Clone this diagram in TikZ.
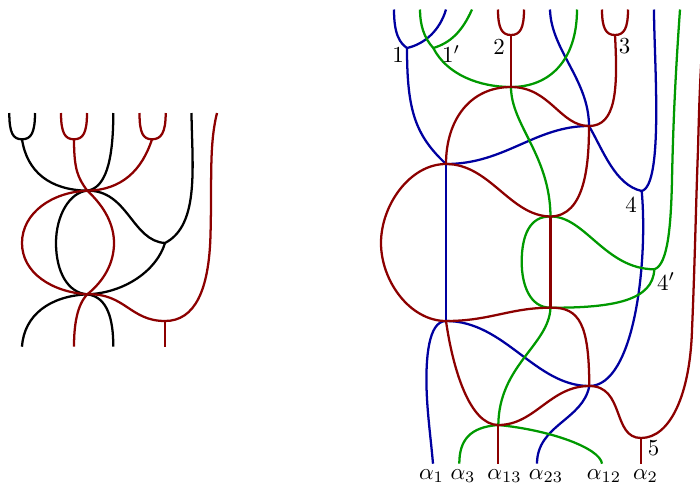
\documentclass[tikz,border=0pt]{standalone}
\definecolor{wr}{RGB}{140,0,0}
\definecolor{wb}{RGB}{0,0,160}
\definecolor{wg}{RGB}{0,153,0}
\tikzset{
  wire/.style={line width=1.7pt,line cap=butt,line join=round},
  kw/.style={wire,draw=black},
  rw/.style={wire,draw=wr},
  bw/.style={wire,draw=wb},
  gw/.style={wire,draw=wg},
  lab/.style={inner sep=0pt,scale=1.72,text=black}
}
\begin{document}
\begin{tikzpicture}[x=0.75pt,y=-0.75pt]
\useasboundingbox (0,0) rectangle (700,486);
% ---------- left diagram ----------
\coordinate (A) at (87.3,190.7);
\coordinate (B) at (87.3,294.3);
\coordinate (L1) at (22,139.3);
\coordinate (L2) at (74,139.3);
\coordinate (L3) at (152,139.3);
\coordinate (LR) at (165,243);
\coordinate (LS) at (165,321);
\coordinate (LT1) at (9.3,113);
\coordinate (LT2) at (35,113);
\coordinate (LT3) at (61,113);
\coordinate (LT4) at (87,113);
\coordinate (LT5) at (113.3,113);
\coordinate (LT6) at (139.5,113);
\coordinate (LT7) at (165.7,113);
\coordinate (LT8) at (191.5,113);
\coordinate (LT9) at (217,113);
\coordinate (LB1) at (22,346.7);
\coordinate (LB2) at (74,346.7);
\coordinate (LB3) at (113.3,346.7);
\coordinate (LB4) at (165,346.7);
\draw[kw] (LT1) .. controls +(0,20) and +(-9,0) .. (L1) .. controls +(9,0) and +(0,20) .. (LT2);
\draw[rw] (LT3) .. controls +(0,20) and +(-9,0) .. (L2) .. controls +(9,0) and +(0,20) .. (LT4);
\draw[rw] (LT6) .. controls +(0,20) and +(-9,0) .. (L3) .. controls +(9,0) and +(0,20) .. (LT7);
\draw[kw] (L1) .. controls (27,172) and (50,190) .. (A);
\draw[kw] (LT5) .. controls (113.3,163) and (105,188) .. (A);
\draw[kw] (A) .. controls (70,192) and (56,215) .. (56,243) .. controls (56,272) and (68,293) .. (B);
\draw[kw] (A) .. controls (128,190) and (132,241) .. (LR);
\draw[kw] (LT8) .. controls (192,165) and (200,225) .. (LR);
\draw[kw] (LR) .. controls (157,270) and (125,293) .. (B);
\draw[kw] (B) .. controls (50,296) and (24,315) .. (LB1);
\draw[kw] (B) .. controls (108,297) and (113.3,320) .. (LB3);
\draw[rw] (L2) .. controls (74,170) and (78,178) .. (A);
\draw[rw] (L3) .. controls (142,170) and (122,190) .. (A);
\draw[rw] (A) .. controls (52,192) and (22,213) .. (22,243) .. controls (22,273) and (52,292) .. (B);
\draw[rw] (A) .. controls (105,207) and (114,225) .. (114,243) .. controls (114,262) and (105,280) .. (B);
\draw[rw] (B) .. controls (125,293) and (130,321) .. (LS);
\draw[rw] (LS) .. controls (195,321) and (209,290) .. (210.5,235) .. controls (212,180) and (209,145) .. (LT9);
\draw[rw] (LS) -- (LB4);
\draw[rw] (B) .. controls (77,305) and (74,325) .. (LB2);
% ---------- right diagram ----------
\coordinate (J1) at (446,164);
\coordinate (J2) at (511,87);
\coordinate (J3) at (589,126);
\coordinate (J4) at (550.5,216.5);
\coordinate (J5) at (550.5,307.7);
\coordinate (J6) at (446,321);
\coordinate (J7) at (589.3,386);
\coordinate (J8) at (498.3,425);
\coordinate (V1) at (407,48);
\coordinate (V1p) at (433.3,48);
\coordinate (V2) at (511,35);
\coordinate (V3) at (615,35);
\coordinate (V4) at (641.7,191);
\coordinate (V4p) at (654.3,269.3);
\coordinate (V5) at (641,438);
\coordinate (T1) at (394,9.5);
\coordinate (T2) at (446,9.5);
\coordinate (T3) at (420,9.5);
\coordinate (T4) at (472,9.5);
\coordinate (T5) at (498,9.5);
\coordinate (T6) at (524,9.5);
\coordinate (T7) at (550,9.5);
\coordinate (T8) at (577,9.5);
\coordinate (T9) at (602,9.5);
\coordinate (T10) at (628,9.5);
\coordinate (T11) at (654,9.5);
\coordinate (T12) at (680,9.5);
\coordinate (T13) at (702,50);
\coordinate (B1) at (433,463.7);
\coordinate (B2) at (459.3,463.7);
\coordinate (B3) at (498.3,463.7);
\coordinate (B4) at (537,463.7);
\coordinate (B5) at (602,463.7);
\coordinate (B6) at (641,463.7);
% blue
\draw[bw] (T1) .. controls (394,35) and (400,43) .. (V1) .. controls (425,44) and (440,30) .. (T2);
\draw[bw] (V1) .. controls (407,110) and (415,135) .. (J1);
\draw[bw] (T7) .. controls (551,50) and (589,80) .. (J3);
\draw[bw] (J1) .. controls (505,164) and (535,126) .. (J3);
\draw[bw] (J3) .. controls (603,150) and (615,185) .. (V4);
\draw[bw] (T11) .. controls (654,60) and (664,185) .. (V4);
\draw[bw] (V4) .. controls (648,260) and (635,386) .. (J7);
\draw[bw] (J1) -- (J6);
\draw[bw] (J6) .. controls (505,321) and (535,386) .. (J7);
\draw[bw] (J6) .. controls (428,321) and (426,360) .. (426.5,385) .. controls (426.8,410) and (431,440) .. (B1);
\draw[bw] (J7) .. controls (583,420) and (537,425) .. (B4);
% green
\draw[gw] (T3) .. controls (420,25) and (424,38) .. (V1p) .. controls (447,75) and (480,87) .. (J2);
\draw[gw] (T4) .. controls (462,32) and (450,43) .. (V1p);
\draw[gw] (T8) .. controls (577,60) and (550,87) .. (J2);
\draw[gw] (J2) .. controls (511,125) and (550,155) .. (J4);
\draw[gw] (J4) .. controls (530,216) and (521.7,235) .. (521.7,262) .. controls (521.7,285) and (530,307.7) .. (J5);
\draw[gw] (J4) .. controls (585,216) and (605,269) .. (V4p);
\draw[gw] (T12) .. controls (675,80) and (673,130) .. (672,180) .. controls (671,225) and (668,265) .. (V4p);
\draw[gw] (V4p) .. controls (653,300) and (615,308) .. (J5);
\draw[gw] (J5) .. controls (549,345) and (499,365) .. (J8);
\draw[gw] (J8) .. controls (470,427) and (459.3,440) .. (B2);
\draw[gw] (J8) .. controls (550,430) and (600,448) .. (B5);
% red
\draw[rw] (T5) .. controls +(0,19) and +(-9,0) .. (V2) .. controls +(9,0) and +(0,19) .. (T6);
\draw[rw] (T9) .. controls +(0,19) and +(-9,0) .. (V3) .. controls +(9,0) and +(0,19) .. (T10);
\draw[rw] (V2) -- (J2);
\draw[rw] (J2) .. controls (470,87) and (446,120) .. (J1);
\draw[rw] (J2) .. controls (550,87) and (560,126) .. (J3);
\draw[rw] (V3) .. controls (618,90) and (616,126) .. (J3);
\draw[rw] (J3) .. controls (589,165) and (585,216) .. (J4);
\draw[rw] (J1) .. controls (490,164) and (510,216) .. (J4);
\draw[rw] (J1) .. controls (410,164) and (381,205) .. (381,243) .. controls (381,281) and (410,321) .. (J6);
\draw[rw] (J4) -- (J5);
\draw[rw] (J5) .. controls (510,307.7) and (490,321) .. (J6);
\draw[rw] (J5) .. controls (580,307) and (589,325) .. (J7);
\draw[rw] (J6) .. controls (453,370) and (470,425) .. (J8);
\draw[rw] (J7) .. controls (550,386) and (535,425) .. (J8);
\draw[rw] (J7) .. controls (625,386) and (612,438) .. (V5);
\draw[rw] (V5) .. controls (670,438) and (690,395) .. (692,330) .. controls (695,260) and (696,200) .. (698,150) .. controls (699,110) and (700,80) .. (T13);
\draw[rw] (V5) -- (B6);
\draw[rw] (J8) -- (B3);
% labels
\node[lab] (n1) at (398,55) {$1$};
\node[lab] (n1p) at (451,54) {$1'$};
\node[lab] (n2) at (499,47.5) {$2$};
\node[lab] (n3) at (624.5,46) {$3$};
\node[lab] (n4) at (631,205) {$4$};
\node[lab] (n4p) at (666,281.5) {$4'$};
\node[lab] (n5) at (653.5,448) {$5$};
\node[lab,anchor=base] (a1) at (431.5,479.5) {$\alpha_1$};
\node[lab,anchor=base] (a3) at (463,479.5) {$\alpha_3$};
\node[lab,anchor=base] (a13) at (504.5,479.5) {$\alpha_{13}$};
\node[lab,anchor=base] (a23) at (546,479.5) {$\alpha_{23}$};
\node[lab,anchor=base] (a12) at (604,479.5) {$\alpha_{12}$};
\node[lab,anchor=base] (a2) at (645.5,479.5) {$\alpha_2$};
\end{tikzpicture}
\end{document}
